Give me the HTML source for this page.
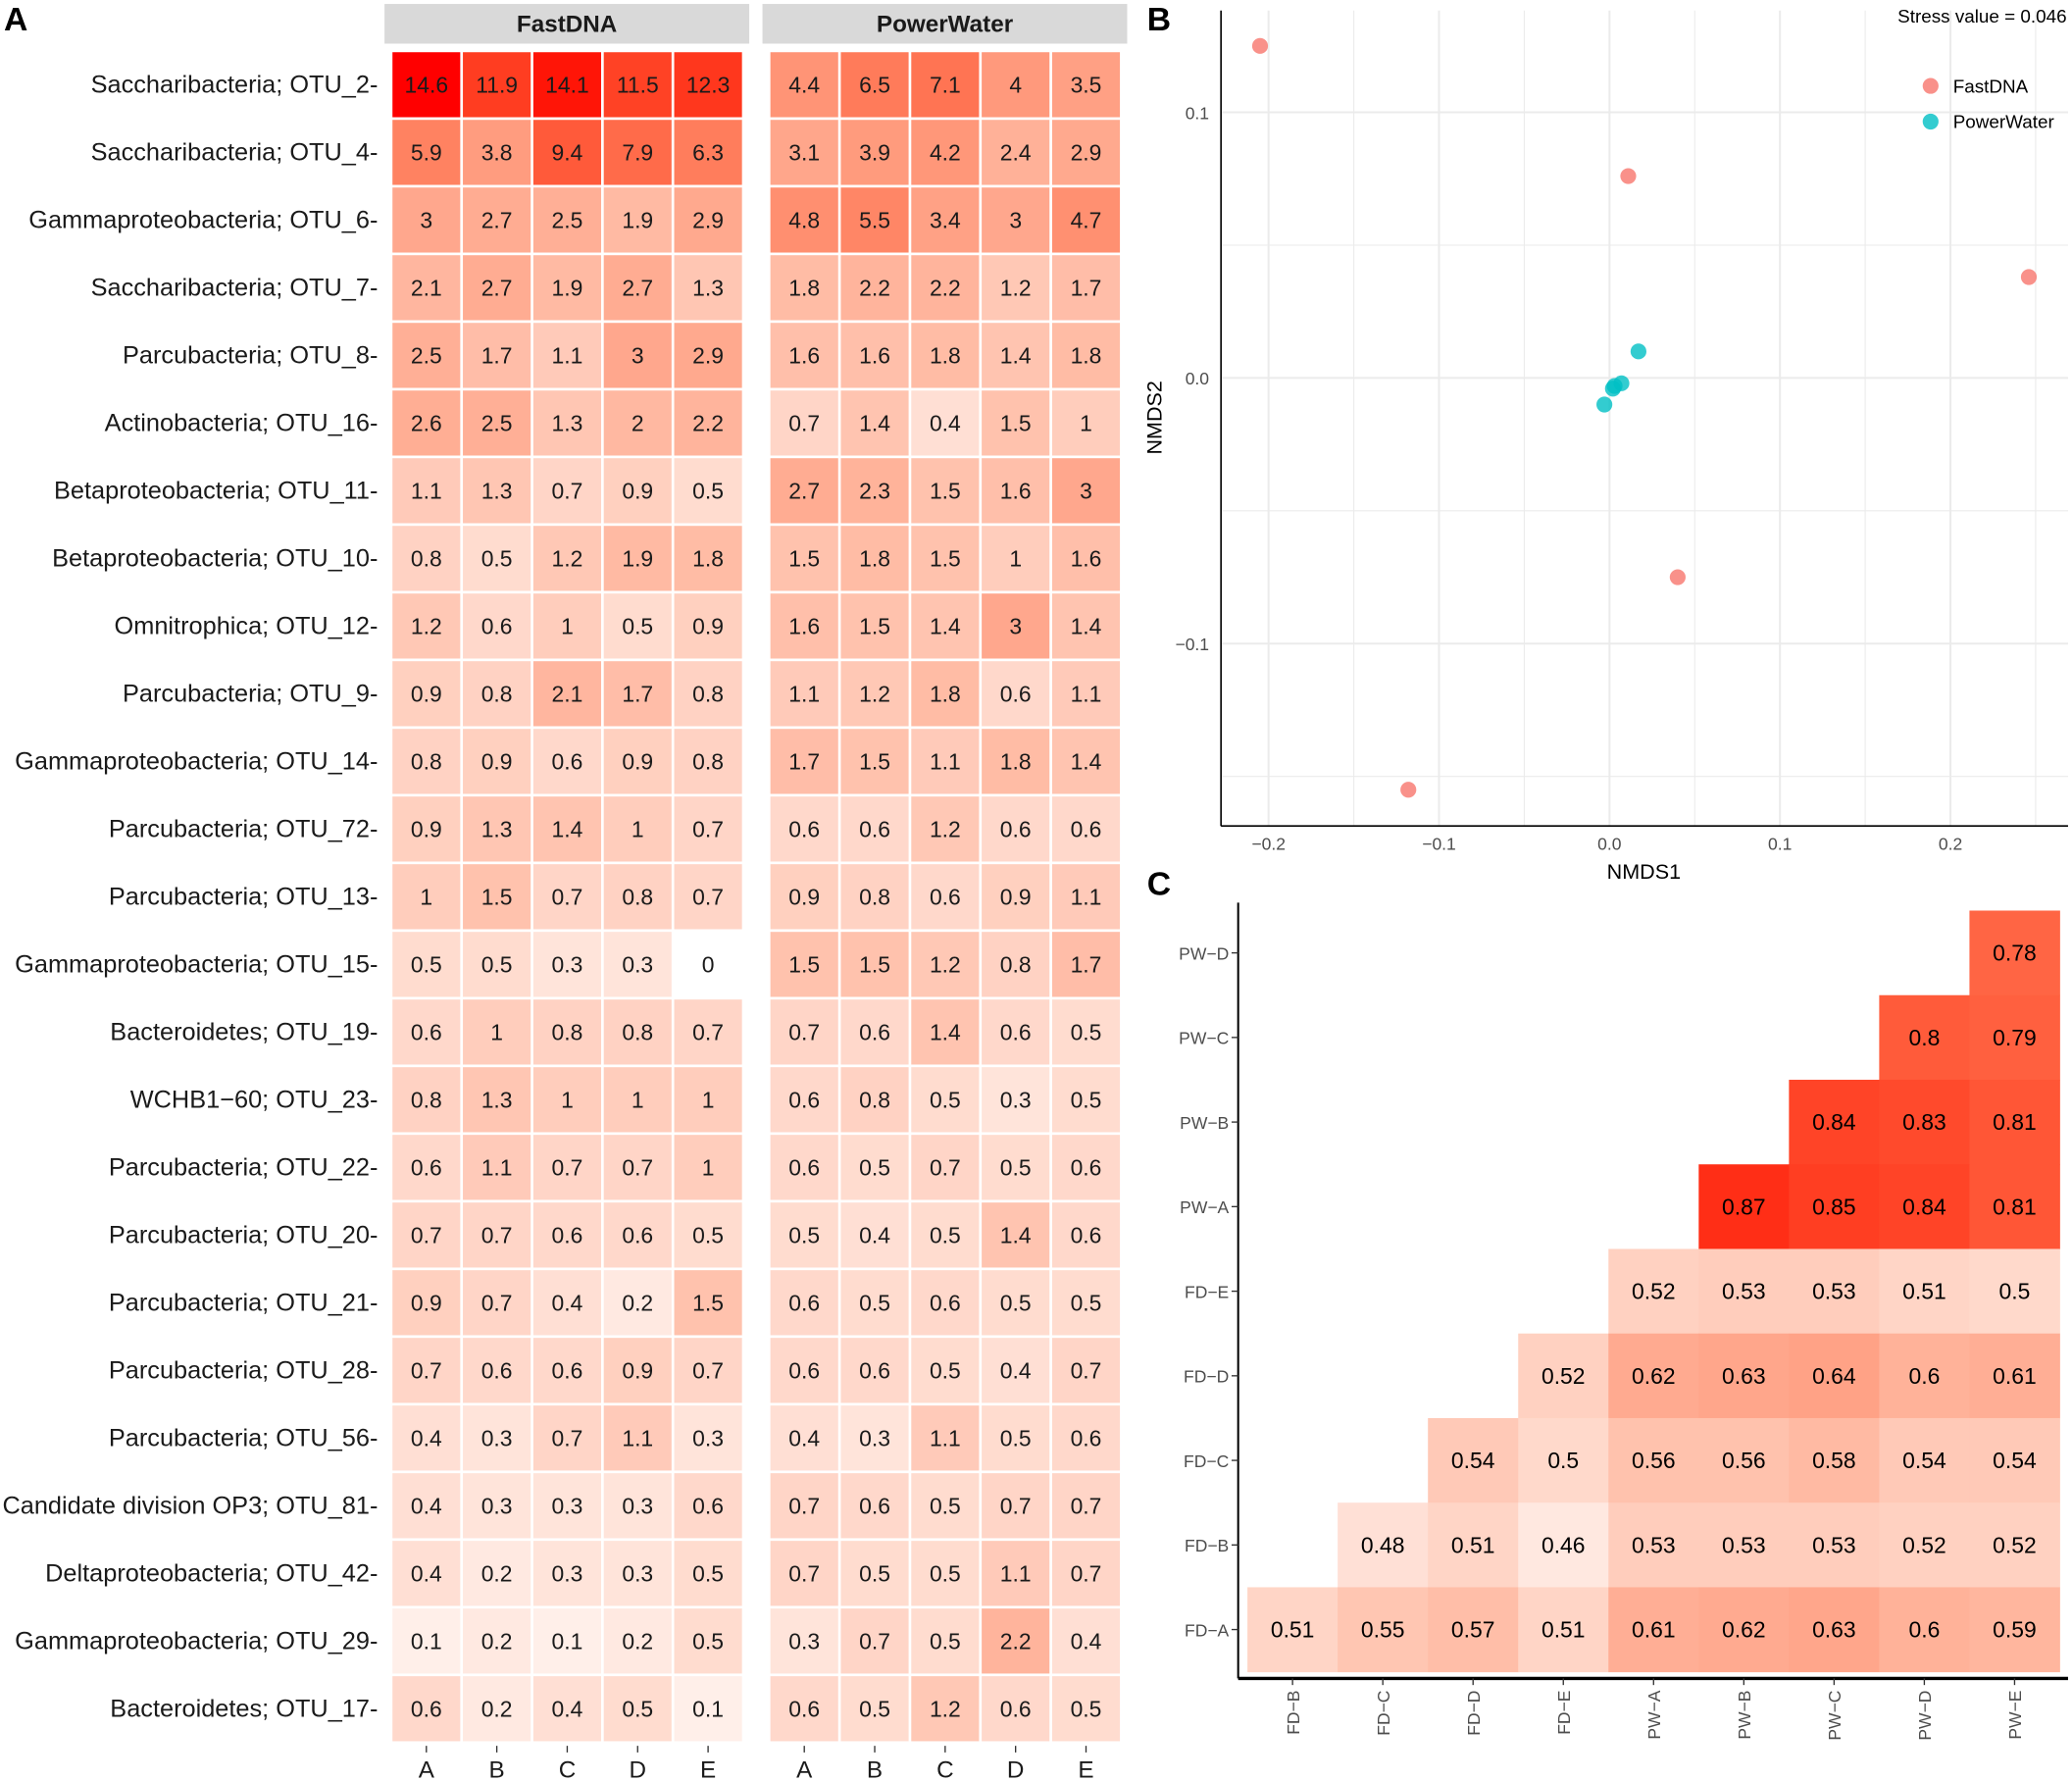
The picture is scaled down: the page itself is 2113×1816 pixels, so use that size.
<!DOCTYPE html>
<html><head><meta charset="utf-8"><style>
html,body{margin:0;padding:0;background:#fff}
svg{display:block;font-family:"Liberation Sans",Arial,sans-serif}
</style></head><body>
<svg id="fig" width="2113" height="1816" viewBox="0 0 1568 1347.6" xmlns="http://www.w3.org/2000/svg">
<rect width="1568" height="1347.6" fill="#fff"/>
<text x="3" y="23" font-size="25" font-weight="bold">A</text>
<text x="868" y="23" font-size="25" font-weight="bold">B</text>
<text x="868" y="677" font-size="25" font-weight="bold">C</text>
<rect x="291" y="3" width="276" height="30" fill="#d9d9d9"/>
<text x="429" y="24" font-size="18" font-weight="bold" text-anchor="middle" fill="#1a1a1a">FastDNA</text>
<rect x="577" y="3" width="276" height="30" fill="#d9d9d9"/>
<text x="715" y="24" font-size="18" font-weight="bold" text-anchor="middle" fill="#1a1a1a">PowerWater</text>
<g id="gA"></g><g id="gB"></g><g id="gC"></g>
</svg>
<script>
const NS="http://www.w3.org/2000/svg";
// ---- Panel A data ----
const otuLabels=["Saccharibacteria; OTU_2","Saccharibacteria; OTU_4","Gammaproteobacteria; OTU_6","Saccharibacteria; OTU_7","Parcubacteria; OTU_8","Actinobacteria; OTU_16","Betaproteobacteria; OTU_11","Betaproteobacteria; OTU_10","Omnitrophica; OTU_12","Parcubacteria; OTU_9","Gammaproteobacteria; OTU_14","Parcubacteria; OTU_72","Parcubacteria; OTU_13","Gammaproteobacteria; OTU_15","Bacteroidetes; OTU_19","WCHB1−60; OTU_23","Parcubacteria; OTU_22","Parcubacteria; OTU_20","Parcubacteria; OTU_21","Parcubacteria; OTU_28","Parcubacteria; OTU_56","Candidate division OP3; OTU_81","Deltaproteobacteria; OTU_42","Gammaproteobacteria; OTU_29","Bacteroidetes; OTU_17"];
const sampleLabels=["A","B","C","D","E"];
const fastdnaValues=[[14.6,11.9,14.1,11.5,12.3],[5.9,3.8,9.4,7.9,6.3],[3,2.7,2.5,1.9,2.9],[2.1,2.7,1.9,2.7,1.3],[2.5,1.7,1.1,3,2.9],[2.6,2.5,1.3,2,2.2],[1.1,1.3,0.7,0.9,0.5],[0.8,0.5,1.2,1.9,1.8],[1.2,0.6,1,0.5,0.9],[0.9,0.8,2.1,1.7,0.8],[0.8,0.9,0.6,0.9,0.8],[0.9,1.3,1.4,1,0.7],[1,1.5,0.7,0.8,0.7],[0.5,0.5,0.3,0.3,0],[0.6,1,0.8,0.8,0.7],[0.8,1.3,1,1,1],[0.6,1.1,0.7,0.7,1],[0.7,0.7,0.6,0.6,0.5],[0.9,0.7,0.4,0.2,1.5],[0.7,0.6,0.6,0.9,0.7],[0.4,0.3,0.7,1.1,0.3],[0.4,0.3,0.3,0.3,0.6],[0.4,0.2,0.3,0.3,0.5],[0.1,0.2,0.1,0.2,0.5],[0.6,0.2,0.4,0.5,0.1]];
const powerwaterValues=[[4.4,6.5,7.1,4,3.5],[3.1,3.9,4.2,2.4,2.9],[4.8,5.5,3.4,3,4.7],[1.8,2.2,2.2,1.2,1.7],[1.6,1.6,1.8,1.4,1.8],[0.7,1.4,0.4,1.5,1],[2.7,2.3,1.5,1.6,3],[1.5,1.8,1.5,1,1.6],[1.6,1.5,1.4,3,1.4],[1.1,1.2,1.8,0.6,1.1],[1.7,1.5,1.1,1.8,1.4],[0.6,0.6,1.2,0.6,0.6],[0.9,0.8,0.6,0.9,1.1],[1.5,1.5,1.2,0.8,1.7],[0.7,0.6,1.4,0.6,0.5],[0.6,0.8,0.5,0.3,0.5],[0.6,0.5,0.7,0.5,0.6],[0.5,0.4,0.5,1.4,0.6],[0.6,0.5,0.6,0.5,0.5],[0.6,0.6,0.5,0.4,0.7],[0.4,0.3,1.1,0.5,0.6],[0.7,0.6,0.5,0.7,0.7],[0.7,0.5,0.5,1.1,0.7],[0.3,0.7,0.5,2.2,0.4],[0.6,0.5,1.2,0.6,0.5]];
// ---- Panel B data ----
const groupNames=["FastDNA","PowerWater"];
const fastdnaNMDS1=[-0.205,0.011,0.246,0.040,-0.118];
const fastdnaNMDS2=[0.125,0.076,0.038,-0.075,-0.155];
const powerwaterNMDS1=[0.017,0.007,0.003,0.002,-0.003];
const powerwaterNMDS2=[0.010,-0.002,-0.003,-0.004,-0.010];
const xTicksB=[-0.2,-0.1,0.0,0.1,0.2];
const yTicksB=[0.1,0.0,-0.1];
// ---- Panel C data ----
const colLabelsC=["FD−B","FD−C","FD−D","FD−E","PW−A","PW−B","PW−C","PW−D","PW−E"];
const rowLabelsC=["PW−D","PW−C","PW−B","PW−A","FD−E","FD−D","FD−C","FD−B","FD−A"];
const simValues=[
[null,null,null,null,null,null,null,null,0.78],
[null,null,null,null,null,null,null,0.8,0.79],
[null,null,null,null,null,null,0.84,0.83,0.81],
[null,null,null,null,null,0.87,0.85,0.84,0.81],
[null,null,null,null,0.52,0.53,0.53,0.51,0.5],
[null,null,null,0.52,0.62,0.63,0.64,0.6,0.61],
[null,null,0.54,0.5,0.56,0.56,0.58,0.54,0.54],
[null,0.48,0.51,0.46,0.53,0.53,0.53,0.52,0.52],
[0.51,0.55,0.57,0.51,0.61,0.62,0.63,0.6,0.59]];

function mk(tag,attrs,parent,txt){const e=document.createElementNS(NS,tag);for(const k in attrs)e.setAttribute(k,attrs[k]);if(txt!==undefined)e.textContent=txt;parent.appendChild(e);return e;}
function labToHex(L,a,b){const fy=(L+16)/116,fx=fy+a/500,fz=fy-b/200;const fi=t=>t>6/29?t*t*t:3*(6/29)*(6/29)*(t-4/29);
const X=0.95047*fi(fx),Y=fi(fy),Z=1.08883*fi(fz);let r=3.2406*X-1.5372*Y-0.4986*Z,g=-0.9689*X+1.8758*Y+0.0415*Z,bb=0.0557*X-0.2040*Y+1.0570*Z;
const gm=c=>{c=c<=0.0031308?12.92*c:1.055*Math.pow(c,1/2.4)-0.055;return Math.max(0,Math.min(255,Math.round(c*255)));};
return "rgb("+gm(r)+","+gm(g)+","+gm(bb)+")";}
function whiteRed(t){t=Math.max(0,Math.min(1,t));return labToHex(100-46.76*t,80.09*t,67.2*t);}

// ---- Panel A ----
const gA=document.getElementById('gA');
const maxA=14.6,rowTop=38.5,rowH=51.2,colW=53.3;
const panelLeft=[296,582];
const rowY=i=>rowTop+i*rowH;
const colX=(p,j)=>panelLeft[p]+j*colW;
[fastdnaValues,powerwaterValues].forEach((vals,p)=>{
  vals.forEach((row,i)=>{row.forEach((v,j)=>{
    const r=mk('rect',{x:colX(p,j)+1,y:rowY(i)+1,width:colW-2,height:rowH-2,fill:whiteRed(Math.sqrt(v/maxA))},gA);
    
    
    const t=mk('text',{x:colX(p,j)+colW/2,y:rowY(i)+rowH/2+6,'font-size':17,'text-anchor':'middle',fill:'#1a1a1a'},gA,String(v));
    
    
  });});
  sampleLabels.forEach((s,j)=>{
    mk('line',{x1:colX(p,j)+colW/2,x2:colX(p,j)+colW/2,y1:1321,y2:1326,stroke:'#333','stroke-width':1},gA);
    const t=mk('text',{x:colX(p,j)+colW/2,y:1345,'font-size':18,'text-anchor':'middle',fill:'#1a1a1a'},gA,s);
    
    
  });
});
otuLabels.forEach((l,i)=>{
  const t=mk('text',{x:286,y:rowY(i)+rowH/2+6,'font-size':18.8,'text-anchor':'end',fill:'#1a1a1a'},gA,l+"-");
  
  
});

// ---- Panel B ----
const gB=document.getElementById('gB');
const bx0=924,bx1=1565,by0=8,by1=625;
const sx=v=>1218+v*1290, sy=v=>286-v*2010;
for(let v=-0.25;v<=0.26;v+=0.05){const x=sx(v);if(x>bx0&&x<bx1)mk('line',{x1:x,x2:x,y1:by0,y2:by1,stroke:'#ebebeb','stroke-width':Math.abs(Math.round(v*20))%2?0.8:1.5},gB);}
for(let v=-0.2;v<=0.16;v+=0.05){const y=sy(v);if(y>by0&&y<by1)mk('line',{x1:bx0,x2:bx1,y1:y,y2:y,stroke:'#ebebeb','stroke-width':Math.abs(Math.round(v*20))%2?0.8:1.5},gB);}
mk('line',{x1:bx0,x2:bx0,y1:by0,y2:by1,stroke:'#000','stroke-width':1.2},gB);
mk('line',{x1:bx0,x2:bx1,y1:by1,y2:by1,stroke:'#000','stroke-width':1.2},gB);
xTicksB.forEach(v=>{const t=mk('text',{x:sx(v),y:643,'font-size':13,'text-anchor':'middle',fill:'#4d4d4d'},gB,v.toFixed(1).replace('-','−'));
  
  });
yTicksB.forEach(v=>{const t=mk('text',{x:915,y:sy(v)+5,'font-size':13,'text-anchor':'end',fill:'#4d4d4d'},gB,v.toFixed(1).replace('-','−'));
  
  });
const xt=mk('text',{x:1244,y:665,'font-size':16,'text-anchor':'middle',fill:'#000'},gB,'NMDS1');


const yt=mk('text',{x:0,y:0,'font-size':16,'text-anchor':'middle',fill:'#000',transform:'translate(879,316) rotate(-90)'},gB,'NMDS2');


const cols=['#F8766D','#00BFC4'];
[[fastdnaNMDS1,fastdnaNMDS2],[powerwaterNMDS1,powerwaterNMDS2]].forEach((s,g)=>{
  s[0].forEach((x,k)=>{const c=mk('circle',{cx:sx(x),cy:sy(s[1][k]),r:6,fill:cols[g],'fill-opacity':0.8},gB);
    
    });
});
const st=mk('text',{x:1564,y:17,'font-size':14,'text-anchor':'end',fill:'#000'},gB,'Stress value = 0.046');


groupNames.forEach((n,g)=>{
  const c=mk('circle',{cx:1461,cy:65+g*27,r:6,fill:cols[g],'fill-opacity':0.8},gB);
  
  
  const t=mk('text',{x:1478,y:70+g*27,'font-size':14,fill:'#000'},gB,n);
  
  
});

// ---- Panel C ----
const gC=document.getElementById('gC');
const cLeft=944,cTop=689,cw=68.3,ch=64;
simValues.forEach((row,i)=>row.forEach((v,j)=>{
  if(v===null)return;
  const r=mk('rect',{x:cLeft+j*cw,y:cTop+i*ch,width:cw+0.3,height:ch+0.3,fill:whiteRed((v-0.4)/0.5)},gC);
  
  
  const t=mk('text',{x:cLeft+j*cw+cw/2,y:cTop+i*ch+ch/2+6,'font-size':17,'text-anchor':'middle',fill:'#000'},gC,String(v));
  
  
}));
mk('line',{x1:937,x2:937,y1:683,y2:1270,stroke:'#000','stroke-width':1.5},gC);
mk('line',{x1:937,x2:1565,y1:1270,y2:1270,stroke:'#000','stroke-width':2.5},gC);
rowLabelsC.forEach((l,i)=>{const y=cTop+i*ch+ch/2;
  mk('line',{x1:932,x2:937,y1:y,y2:y,stroke:'#333'},gC);
  const t=mk('text',{x:930,y:y+5,'font-size':13,'text-anchor':'end',fill:'#4d4d4d'},gC,l);
  
  });
colLabelsC.forEach((l,j)=>{const x=cLeft+j*cw+cw/2;
  mk('line',{x1:x,x2:x,y1:1270,y2:1275,stroke:'#333'},gC);
  const t=mk('text',{x:0,y:0,'font-size':13,'text-anchor':'end',fill:'#4d4d4d',transform:'translate('+(x+5)+',1279) rotate(-90)'},gC,l);
  
  });
</script>
</body></html>
